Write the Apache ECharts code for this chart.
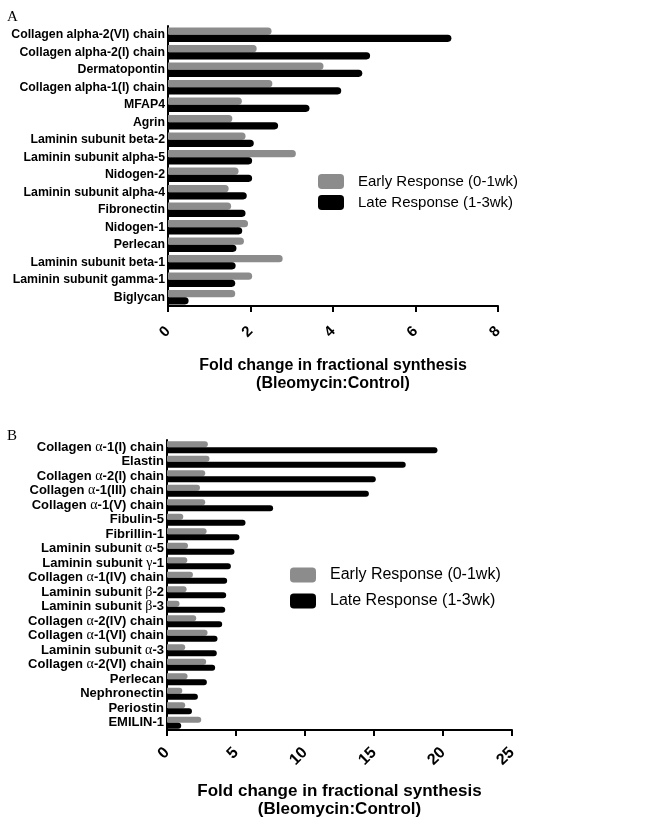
<!DOCTYPE html>
<html>
<head>
<meta charset="utf-8">
<script src="https://cdn.jsdelivr.net/npm/echarts@6/dist/echarts.min.js"></script>
<style>
  html, body { margin: 0; padding: 0; background: #fff; }
  #main { width: 663px; height: 824px; }
</style>
</head>
<body>
<div id="main"></div>
<script>
const catsA = ['Collagen alpha-2(VI) chain', 'Collagen alpha-2(I) chain', 'Dermatopontin',
  'Collagen alpha-1(I) chain', 'MFAP4', 'Agrin', 'Laminin subunit beta-2', 'Laminin subunit alpha-5',
  'Nidogen-2', 'Laminin subunit alpha-4', 'Fibronectin', 'Nidogen-1', 'Perlecan',
  'Laminin subunit beta-1', 'Laminin subunit gamma-1', 'Biglycan'];
const earlyA = [2.51, 2.15, 3.77, 2.53, 1.79, 1.56, 1.88, 3.10, 1.71, 1.47, 1.53, 1.94, 1.84, 2.78, 2.04, 1.63];
const lateA = [6.87, 4.90, 4.71, 4.20, 3.43, 2.67, 2.08, 2.04, 2.04, 1.91, 1.88, 1.80, 1.66, 1.64, 1.63, 0.50];

const catsB = ['Collagen α-1(I) chain', 'Elastin', 'Collagen α-2(I) chain', 'Collagen α-1(III) chain',
  'Collagen α-1(V) chain', 'Fibulin-5', 'Fibrillin-1', 'Laminin subunit α-5', 'Laminin subunit γ-1',
  'Collagen α-1(IV) chain', 'Laminin subunit β-2', 'Laminin subunit β-3', 'Collagen α-2(IV) chain',
  'Collagen α-1(VI) chain', 'Laminin subunit α-3', 'Collagen α-2(VI) chain', 'Perlecan',
  'Nephronectin', 'Periostin', 'EMILIN-1'];
const earlyB = [2.96, 3.08, 2.77, 2.39, 2.77, 1.18, 2.87, 1.52, 1.47, 1.88, 1.42, 0.91, 2.12, 2.94, 1.32, 2.84, 1.49, 1.11, 1.32, 2.48];
const lateB = [19.6, 17.3, 15.13, 14.63, 7.69, 5.69, 5.25, 4.89, 4.63, 4.36, 4.29, 4.22, 4.0, 3.66, 3.61, 3.49, 2.89, 2.24, 1.81, 1.03];

const seriesNames = ['Early Response (0-1wk)', 'Late Response (1-3wk)'];
const axisTitle = 'Fold change in fractional synthesis\n(Bleomycin:Control)';

const GRAY = '#8c8c8c';
const BLACK = '#000';
const sans = '"Liberation Sans", Arial, sans-serif';

const myChart = echarts.init(document.querySelector('#main'));

// greek letters are drawn in a serif face, like the original figure
function greekLabel(v) {
  return v.replace(/([α-ω])/g, '{g|$1}');
}

function catAxis(idx, cats, size) {
  return {
    type: 'category',
    gridIndex: idx,
    data: cats,
    inverse: true,
    axisLine: { lineStyle: { color: '#000', width: 2 } },
    axisTick: { alignWithLabel: true, length: 5, lineStyle: { color: '#000', width: 2 } },
    axisLabel: {
      color: '#000',
      fontFamily: sans,
      fontWeight: 'bold',
      fontSize: size,
      margin: 3,
      interval: 0,
      formatter: greekLabel,
      rich: {
        g: { fontFamily: '"Liberation Serif", serif', fontWeight: 'normal', fontSize: size + 1, color: '#000' }
      }
    }
  };
}

function valAxis(idx, max, interval, size, margin, gap) {
  return {
    type: 'value',
    gridIndex: idx,
    min: 0,
    max: max,
    interval: interval,
    splitLine: { show: false },
    axisLine: { show: true, lineStyle: { color: '#000', width: 2 } },
    axisTick: { show: true, length: 6, lineStyle: { color: '#000', width: 2 } },
    axisLabel: {
      color: '#000',
      fontFamily: sans,
      fontWeight: 'bold',
      fontSize: size,
      rotate: 45,
      margin: margin
    },
    name: axisTitle,
    nameLocation: 'middle',
    nameGap: gap,
    nameTextStyle: {
      color: '#000',
      fontFamily: sans,
      fontWeight: 'bold',
      fontSize: size + 1,
      lineHeight: 18
    }
  };
}

function barSeries(name, idx, data, color) {
  return {
    name: name,
    type: 'bar',
    xAxisIndex: idx,
    yAxisIndex: idx,
    data: data,
    barGap: '0%',
    barCategoryGap: '18%',
    itemStyle: { color: color, borderRadius: [0, 4, 4, 0] }
  };
}

function legendAt(left, top, size, gap) {
  return {
    orient: 'vertical',
    left: left,
    top: top,
    padding: 0,
    itemWidth: 26,
    itemHeight: 15,
    itemGap: gap,
    icon: 'roundRect',
    data: seriesNames,
    textStyle: {
      color: '#000',
      fontFamily: sans,
      fontSize: size,
      padding: [0, 0, 0, 9]
    }
  };
}

const option = {
  backgroundColor: '#fff',
  animation: false,
  graphic: [
    { type: 'text', left: 7, top: 10, style: { text: 'A', font: '15px "Liberation Serif", serif', fill: '#000' } },
    { type: 'text', left: 7, top: 429, style: { text: 'B', font: '15px "Liberation Serif", serif', fill: '#000' } }
  ],
  legend: [
    legendAt(318, 174, 15, 6),
    legendAt(290, 567, 16, 10)
  ],
  grid: [
    { left: 168, top: 26, width: 330, height: 280, outerBoundsMode: 'none' },
    { left: 167, top: 440, width: 345, height: 290, outerBoundsMode: 'none' }
  ],
  xAxis: [
    valAxis(0, 8, 2, 15, 23, 51),
    valAxis(1, 25, 5, 16, 20, 52)
  ],
  yAxis: [
    catAxis(0, catsA, 12.3),
    catAxis(1, catsB, 13)
  ],
  series: [
    barSeries(seriesNames[0], 0, earlyA, GRAY),
    barSeries(seriesNames[1], 0, lateA, BLACK),
    barSeries(seriesNames[0], 1, earlyB, GRAY),
    barSeries(seriesNames[1], 1, lateB, BLACK)
  ]
};

myChart.setOption(option);
</script>
</body>
</html>
